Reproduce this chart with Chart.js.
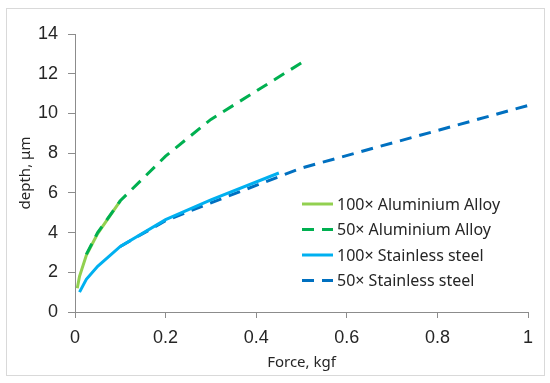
<!DOCTYPE html>
<html>
<head>
<meta charset="utf-8">
<script src="https://cdn.jsdelivr.net/npm/chart.js@4"></script>
<style>
  html, body { margin: 0; padding: 0; background: #fff; }
  #wrap { width: 550px; height: 383px; position: relative; }
</style>
</head>
<body>
<div id="wrap"><canvas id="chart" width="550" height="383"></canvas></div>
<script>
// series labels
const seriesLabels = ['100\u00d7 Aluminium Alloy', '50\u00d7 Aluminium Alloy', '100\u00d7 Stainless steel', '50\u00d7 Stainless steel'];

// force (kgf) / depth (µm)
const forceAl100 = [0.005, 0.01, 0.025, 0.05, 0.1];
const depthAl100 = [1.2, 1.8, 2.85, 3.95, 5.6];

const forceAl50 = [0.025, 0.05, 0.1, 0.2, 0.3, 0.5];
const depthAl50 = [2.9, 4.0, 5.6, 7.85, 9.7, 12.55];

const forceSs100 = [0.01, 0.025, 0.05, 0.1, 0.2, 0.3, 0.45];
const depthSs100 = [1.0, 1.65, 2.3, 3.3, 4.65, 5.65, 7.0];

const forceSs50 = [0.1, 0.2, 0.3, 0.5, 1];
const depthSs50 = [3.3, 4.6, 5.5, 7.25, 10.4];

const pts = (xs, ys) => xs.map((x, i) => ({ x: x, y: ys[i] }));

const AXIS = '#8c8c8c';
const TEXT = '#262626';

// light grey frame round the whole chart
const frame = {
    id: 'frame',
    beforeDraw(chart) {
        const ctx = chart.ctx;
        ctx.save();
        ctx.fillStyle = '#fff';
        ctx.fillRect(0, 0, chart.width, chart.height);
        ctx.strokeStyle = '#d9d9d9';
        ctx.lineWidth = 1;
        ctx.strokeRect(6.5, 8.5, 538, 367);
        ctx.restore();
    }
};

// legend sits inside the plot, lower right
const insideLegend = {
    id: 'insideLegend',
    afterDraw(chart) {
        const ctx = chart.ctx;
        const x0 = 302, x1 = 333, tx = 337;
        let y = 204;
        ctx.save();
        ctx.font = '16px "Noto Sans"';
        ctx.textBaseline = 'middle';
        ctx.fillStyle = TEXT;
        chart.data.datasets.forEach(ds => {
            ctx.beginPath();
            ctx.strokeStyle = ds.borderColor;
            ctx.lineWidth = 3;
            ctx.setLineDash(ds.borderDash || []);
            ctx.moveTo(x0, y);
            ctx.lineTo(x1, y);
            ctx.stroke();
            ctx.setLineDash([]);
            ctx.fillText(ds.label, tx, y + 1);
            y += 25.5;
        });
        ctx.restore();
    }
};

new Chart(document.getElementById('chart'), {
    type: 'scatter',
    data: {
        datasets: [
            { label: seriesLabels[0], data: pts(forceAl100, depthAl100), borderColor: '#92D050', order: 4 },
            { label: seriesLabels[1], data: pts(forceAl50, depthAl50), borderColor: '#00B050', borderDash: [12, 8], order: 3 },
            { label: seriesLabels[2], data: pts(forceSs100, depthSs100), borderColor: '#00B0F0', order: 1 },
            { label: seriesLabels[3], data: pts(forceSs50, depthSs50), borderColor: '#0070C0', borderDash: [12, 8], order: 2 }
        ].map(d => Object.assign({ showLine: true, borderWidth: 3, pointRadius: 0, tension: 0, fill: false }, d))
    },
    options: {
        responsive: false,
        animation: false,
        layout: { padding: { left: 0, top: 34, right: 22, bottom: 0 } },
        plugins: {
            legend: { display: false },
            tooltip: { enabled: false }
        },
        scales: {
            x: {
                type: 'linear',
                min: 0, max: 1,
                ticks: {
                    stepSize: 0.2, color: TEXT, font: { family: 'Liberation Sans', size: 18 }, padding: 9,
                    callback: v => String(+v.toFixed(1))
                },
                grid: { drawOnChartArea: false, color: AXIS, tickLength: 6 },
                border: { color: AXIS, width: 1 },
                title: { display: true, text: 'Force, kgf', color: TEXT, font: { family: 'Noto Sans', size: 15 }, padding: { top: 0, bottom: 11 } },
                afterFit(s) { s.height = 71; }
            },
            y: {
                type: 'linear',
                min: 0, max: 14,
                ticks: { stepSize: 2, color: TEXT, font: { family: 'Liberation Sans', size: 18 }, padding: 10 },
                grid: { drawOnChartArea: false, color: AXIS, tickLength: 7 },
                border: { color: AXIS, width: 1 },
                title: { display: true, text: 'depth, \u03bcm', color: TEXT, font: { family: 'Noto Sans', size: 15 }, padding: { top: 17, bottom: 0 } },
                afterFit(s) { s.width = 75; }
            }
        }
    },
    plugins: [frame, insideLegend]
});
</script>
</body>
</html>
